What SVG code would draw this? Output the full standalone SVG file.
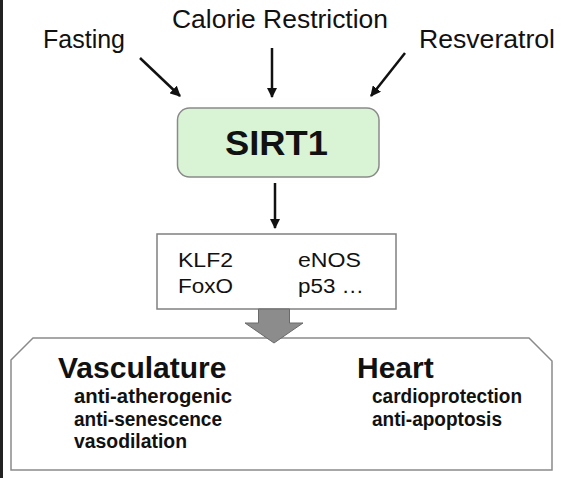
<svg xmlns="http://www.w3.org/2000/svg" width="561" height="478" viewBox="0 0 561 478">
<style>
.lbl{font-family:"Liberation Sans",Arial,sans-serif;font-size:26px;fill:#111}
.mid{font-family:"Liberation Sans",Arial,sans-serif;font-size:20.5px;fill:#111}
.hd{font-family:"Liberation Sans",Arial,sans-serif;font-size:30px;font-weight:bold;fill:#111}
.sub{font-family:"Liberation Sans",Arial,sans-serif;font-size:19.5px;font-weight:bold;fill:#111}
.arr{stroke:#111;stroke-width:2.5;fill:none;marker-end:url(#ah)}
</style>
<defs>
<marker id="ah" viewBox="0 0 10 10" refX="9" refY="5" markerWidth="4.2" markerHeight="4.2" orient="auto" markerUnits="strokeWidth">
<path d="M0,0 L10,5 L0,10 Z" fill="#111"/>
</marker>
</defs>
<rect x="0" y="0" width="561" height="478" fill="#fff"/>
<rect x="0" y="0" width="3" height="478" fill="#222"/>
<g id="fasting"><text class="lbl" x="43" y="48" textLength="82" lengthAdjust="spacingAndGlyphs">Fasting</text></g>
<g id="calorie"><text class="lbl" x="172" y="28" textLength="216" lengthAdjust="spacingAndGlyphs">Calorie Restriction</text></g>
<g id="resveratrol"><text class="lbl" x="419" y="48" textLength="136" lengthAdjust="spacingAndGlyphs">Resveratrol</text></g>
<g id="sirt1">
<rect x="177.5" y="108" width="201.5" height="69" rx="12" fill="#d8f4d4" stroke="#8a8a8a" stroke-width="1.5"/>
<text x="225" y="155" font-family="Liberation Sans,Arial,sans-serif" font-size="35" font-weight="bold" fill="#111" textLength="103" lengthAdjust="spacingAndGlyphs">SIRT1</text>
</g>
<g id="targets">
<rect x="157" y="234" width="239" height="75" fill="#fff" stroke="#808080" stroke-width="1.5"/>
<text class="mid" x="178" y="267" textLength="55" lengthAdjust="spacingAndGlyphs">KLF2</text>
<text class="mid" x="178" y="293" textLength="55" lengthAdjust="spacingAndGlyphs">FoxO</text>
<text class="mid" x="298" y="267" textLength="63" lengthAdjust="spacingAndGlyphs">eNOS</text>
<text class="mid" x="298" y="293" textLength="66" lengthAdjust="spacingAndGlyphs">p53 …</text>
</g>
<g id="effects">
<path d="M11,360 L33,338 L529,338 L552,361 L552,470 L11,470 Z" fill="#fff" stroke="#8a8a8a" stroke-width="1.5"/>
<text class="hd" x="58" y="378">Vasculature</text>
<text class="sub" x="74" y="403" textLength="158" lengthAdjust="spacingAndGlyphs">anti-atherogenic</text>
<text class="sub" x="74" y="426" textLength="148" lengthAdjust="spacingAndGlyphs">anti-senescence</text>
<text class="sub" x="74" y="448" textLength="113" lengthAdjust="spacingAndGlyphs">vasodilation</text>
<text class="hd" x="357" y="378">Heart</text>
<text class="sub" x="372" y="403" textLength="150" lengthAdjust="spacingAndGlyphs">cardioprotection</text>
<text class="sub" x="372" y="426" textLength="130" lengthAdjust="spacingAndGlyphs">anti-apoptosis</text>
</g>
<g id="connectors">
<line class="arr" x1="140" y1="58" x2="180" y2="96"/>
<line class="arr" x1="272" y1="48" x2="272" y2="97"/>
<line class="arr" x1="405" y1="53" x2="371" y2="96"/>
<line class="arr" x1="275" y1="183" x2="275" y2="228"/>
<path d="M258.5,309 L289.5,309 L289.5,323 L303,323 L274,343 L245,323 L258.5,323 Z" fill="#8c8c8c" stroke="#6a6a6a" stroke-width="1"/>
</g>
</svg>
